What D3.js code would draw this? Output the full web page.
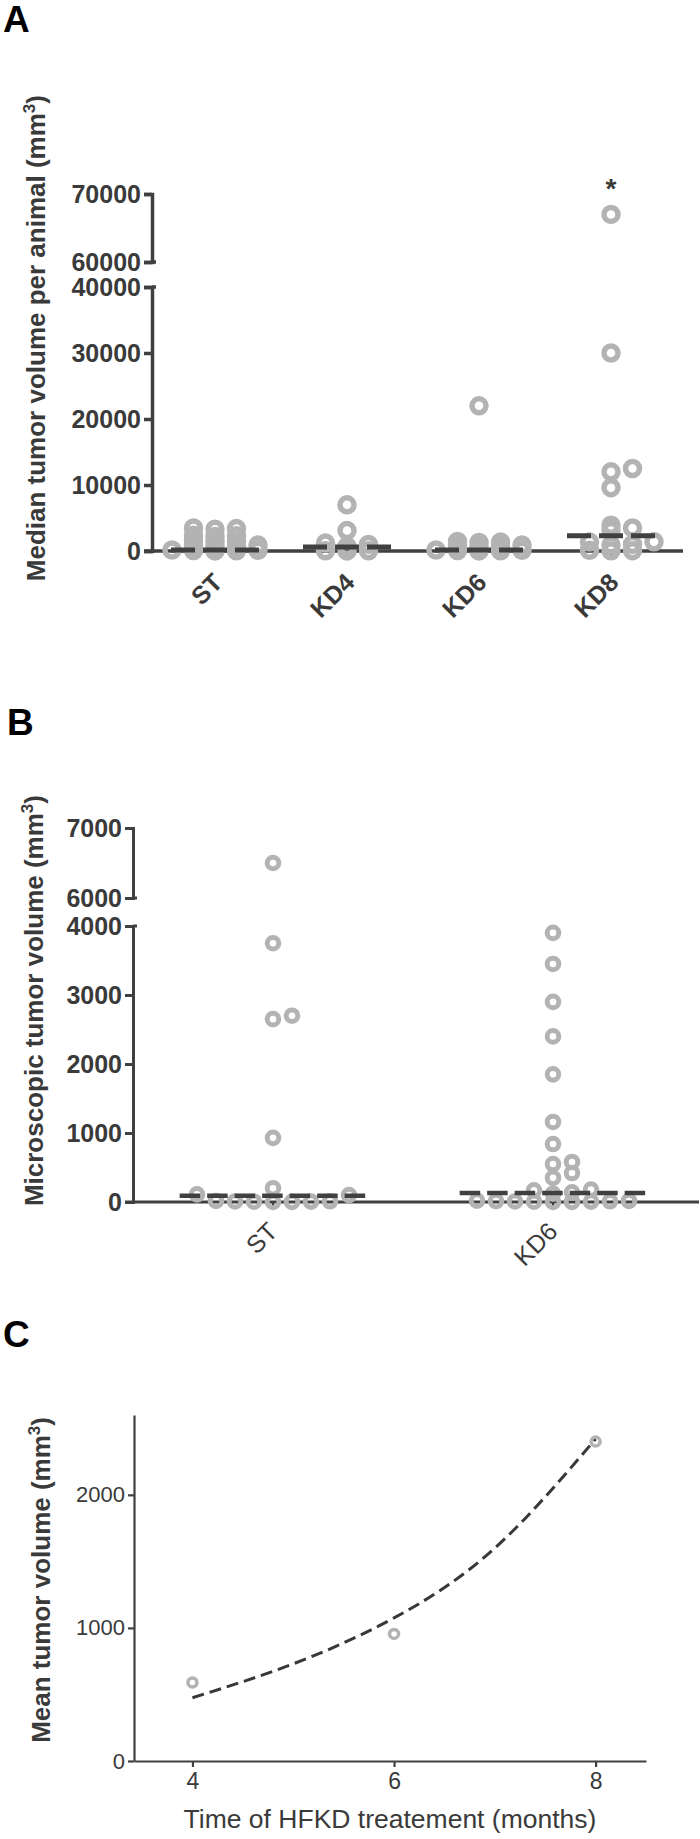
<!DOCTYPE html>
<html>
<head>
<meta charset="utf-8">
<script src="https://cdn.jsdelivr.net/npm/d3@7"></script>
<style>
  body { margin: 0; background: #fff; }
  svg { display: block; font-family: "Liberation Sans", Arial, sans-serif; }
  .ax path, .ax line { stroke: #404040; }
  .ax text { fill: #3a3a3a; }
</style>
</head>
<body>
<svg width="700" height="1839"></svg>
<script>
'use strict';
// panel A - median tumor volume per animal
var catsA = ['ST', 'KD4', 'KD6', 'KD8'];
var stA = [10, 30, 60, 100, 150, 700, 750, 800, 900, 1400, 1500, 1600, 2200, 2300, 2400, 3300, 3400, 3500];
var kd4A = [10, 20, 40, 700, 1000, 1200, 3100, 7000];
var kd6A = [10, 30, 60, 100, 150, 650, 700, 800, 900, 1300, 1350, 1450, 22000];
var kd8A = [20, 50, 100, 900, 1000, 1350, 1400, 3100, 3500, 3900, 9600, 12000, 12500, 30000, 67000];
var medianA = [150, 600, 150, 2300];
var ticksALow = [0, 10000, 20000, 30000, 40000];
var ticksAHigh = [60000, 70000];

// panel B - microscopic tumor volume
var catsB = ['ST', 'KD6'];
var stB = [0, 2, 4, 6, 8, 10, 15, 100, 110, 200, 930, 2650, 2700, 3750, 6500];
var kd6B = [0, 2, 4, 6, 8, 10, 12, 15, 20, 120, 140, 170, 180, 350, 420, 550, 580, 840, 1160, 1850, 2400, 2900, 3450, 3900];
var medianB = [90, 130];
var ticksBLow = [0, 1000, 2000, 3000, 4000];
var ticksBHigh = [6000, 7000];

// panel C - mean tumor volume vs time
var monthsC = [4, 6, 8];
var meanC = [590, 955, 2400];
var fitMonthsC = [4, 5, 6, 7, 8];
var fitC = [475, 730, 1075, 1600, 2420];
var ticksCx = [4, 6, 8];
var ticksCy = [0, 1000, 2000];

var svg = d3.select('svg');
var GREY = '#b3b3b3';
var DARK = '#404040';

// spread points of one column sideways when they sit on top of each other
function swarm(vals, y, step, hc) {
  var placed = [];
  vals.slice().sort((a, b) => a - b).forEach(v => {
    var py = y(v), k = 0, off = 0;
    for (;;) {
      off = k === 0 ? 0 : (k % 2 ? (k + 1) / 2 : -k / 2) * step;
      if (!placed.some(p => Math.abs(p.off - off) < step * 0.9 && Math.abs(p.py - py) < hc)) {
        break;
      }
      k++;
    }
    placed.push({v: v, py: py, off: off});
  });
  return placed;
}

function letter(t, x, y) {
  svg.append('text')
    .attr('x', x).attr('y', y)
    .attr('font-size', 37).attr('font-weight', 'bold')
    .text(t);
}

function yTitle(label, x, yEnd) {
  var t = svg.append('text')
    .attr('transform', `translate(${x},${yEnd}) rotate(-90)`)
    .attr('text-anchor', 'end')
    .attr('font-size', 26).attr('font-weight', 'bold')
    .attr('fill', '#3a3a3a');
  t.append('tspan').text(label + ' (mm');
  t.append('tspan').attr('font-size', 17).attr('dy', -10).text('3');
  t.append('tspan').attr('dy', 10).text(')');
}

function cleanAxis(g) {
  g.attr('font-size', null).attr('font-family', null);
}

function dotPanel(o) {
  var low = d3.scaleLinear().domain(o.lowDomain).range(o.lowRange);
  var high = d3.scaleLinear().domain(o.highDomain).range(o.highRange);
  var y = v => v >= o.highDomain[0] ? high(v) : low(v);
  var x = d3.scaleBand().domain(o.cats).range(o.xRange);
  var bw = x.bandwidth();
  var y0 = low(0);
  var ax = o.xRange[0] - o.yGap;
  var g = svg.append('g');

  // broken y axis, two pieces
  [[low, o.ticksLow], [high, o.ticksHigh]].forEach(([s, t]) => {
    g.append('g')
      .attr('class', 'ax')
      .attr('transform', `translate(${ax},0)`)
      .call(d3.axisLeft(s).tickValues(t).tickSize(8).tickSizeOuter(8).tickPadding(3).tickFormat(d3.format('d')))
      .call(cleanAxis)
      .call(a => a.selectAll('path, line').attr('stroke-width', o.axisW))
      .call(a => a.selectAll('text').attr('font-size', 25).attr('font-weight', 'bold'));
  });
  // small stubs at the two ends of the break
  g.selectAll('line.stub')
    .data([low(o.lowDomain[1]), high(o.highDomain[0])])
    .enter().append('line')
      .attr('class', 'stub')
      .attr('x1', ax).attr('x2', ax + 4)
      .attr('y1', d => d).attr('y2', d => d)
      .attr('stroke', DARK).attr('stroke-width', o.axisW);

  // x axis
  g.append('line')
    .attr('x1', ax - 8).attr('x2', o.xRange[1] + 6)
    .attr('y1', y0).attr('y2', y0)
    .attr('stroke', DARK).attr('stroke-width', o.axisW);
  g.append('g')
    .attr('class', 'ax')
    .attr('transform', `translate(0,${y0})`)
    .call(d3.axisBottom(x).tickSize(6).tickSizeOuter(0))
    .call(cleanAxis)
    .call(a => a.select('.domain').remove())
    .call(a => a.selectAll('line').attr('stroke-width', 2.5))
    .call(a => a.selectAll('text')
      .attr('x', o.lab[0]).attr('y', o.lab[1]).attr('dy', 0)
      .attr('text-anchor', 'end')
      .attr('transform', `rotate(-45,${o.lab[0]},${o.lab[1]})`)
      .attr('font-size', o.labSize)
      .attr('font-weight', o.labWeight));

  // dots
  o.cats.forEach((c, i) => {
    var cx = x(c) + bw / 2;
    g.append('g')
      .selectAll('circle')
      .data(swarm(o.series[i], y, o.step, o.hc))
      .enter().append('circle')
        .attr('cx', d => cx + d.off)
        .attr('cy', d => d.py)
        .attr('r', o.r)
        .attr('fill', 'none')
        .attr('stroke', GREY)
        .attr('stroke-width', o.sw);
  });

  // medians
  g.append('g')
    .selectAll('line')
    .data(o.medians)
    .enter().append('line')
      .attr('x1', (d, i) => x(o.cats[i]) + bw / 2 - bw / 3)
      .attr('x2', (d, i) => x(o.cats[i]) + bw / 2 + bw / 3)
      .attr('y1', d => y(d))
      .attr('y2', d => y(d))
      .attr('stroke', DARK)
      .attr('stroke-width', o.medW)
      .attr('stroke-dasharray', o.dash);

  return {x: x, y: y, bw: bw};
}

// ---------- A ----------
letter('A', 3, 32);
yTitle('Median tumor volume per animal', 45, 95);
var pa = dotPanel({
  cats: catsA,
  series: [stA, kd4A, kd6A, kd8A],
  medians: medianA,
  lowDomain: [0, 40000], lowRange: [551, 287],
  highDomain: [60000, 70000], highRange: [262, 194],
  ticksLow: ticksALow, ticksHigh: ticksAHigh,
  xRange: [149, 677], yGap: -3,
  axisW: 3.5, r: 7, sw: 5.5, step: 21.5, hc: 4,
  medW: 5, dash: '24,8',
  lab: [9, 33], labSize: 25, labWeight: 'bold'
});
svg.append('text')
  .attr('x', pa.x('KD8') + pa.bw / 2)
  .attr('y', pa.y(d3.max(kd8A)) - 16)
  .attr('text-anchor', 'middle')
  .attr('font-size', 28).attr('font-weight', 'bold')
  .attr('fill', '#3a3a3a')
  .text('*');

// ---------- B ----------
letter('B', 7, 735);
yTitle('Microscopic tumor volume', 43, 795);
dotPanel({
  cats: catsB,
  series: [stB, kd6B],
  medians: medianB,
  lowDomain: [0, 4000], lowRange: [1202, 926],
  highDomain: [6000, 7000], highRange: [898, 828],
  ticksLow: ticksBLow, ticksHigh: ticksBHigh,
  xRange: [133, 693], yGap: 0,
  axisW: 3, r: 5.8, sw: 5, step: 19, hc: 8,
  medW: 4.5, dash: '20.5,7',
  lab: [6, 31], labSize: 25, labWeight: 'normal'
});

// ---------- C ----------
letter('C', 3, 1347);
yTitle('Mean tumor volume', 50, 1417);
var xC = d3.scaleLinear().domain([3.42, 8.5]).range([134, 646]);
var yC = d3.scaleLinear().domain([0, 2600]).range([1761, 1415]);
var gc = svg.append('g');
gc.append('g')
  .attr('class', 'ax')
  .attr('transform', `translate(0,${yC(0)})`)
  .call(d3.axisBottom(xC).tickValues(ticksCx).tickSize(6).tickSizeOuter(0).tickPadding(6).tickFormat(d3.format('d')))
  .call(cleanAxis)
  .call(a => a.selectAll('path, line').attr('stroke-width', 2.2).attr('stroke', '#333'))
  .call(a => a.selectAll('text').attr('font-size', 23));
gc.append('g')
  .attr('class', 'ax')
  .attr('transform', `translate(${xC.range()[0]},0)`)
  .call(d3.axisLeft(yC).tickValues(ticksCy).tickSize(6).tickSizeOuter(0).tickPadding(3).tickFormat(d3.format('d')))
  .call(cleanAxis)
  .call(a => a.selectAll('path, line').attr('stroke-width', 2.2).attr('stroke', '#333'))
  .call(a => a.selectAll('text').attr('font-size', 22));
gc.append('path')
  .datum(fitMonthsC.map((m, i) => [m, fitC[i]]))
  .attr('d', d3.line().x(d => xC(d[0])).y(d => yC(d[1])).curve(d3.curveNatural))
  .attr('fill', 'none')
  .attr('stroke', '#383838')
  .attr('stroke-width', 3)
  .attr('stroke-dasharray', '12,6');
gc.append('g')
  .selectAll('circle')
  .data(monthsC.map((m, i) => [m, meanC[i]]))
  .enter().append('circle')
    .attr('cx', d => xC(d[0]))
    .attr('cy', d => yC(d[1]))
    .attr('r', 4.5)
    .attr('fill', 'none')
    .attr('stroke', GREY)
    .attr('stroke-width', 3.5);
svg.append('text')
  .attr('x', (xC.range()[0] + xC.range()[1]) / 2)
  .attr('y', 1828)
  .attr('text-anchor', 'middle')
  .attr('font-size', 26.5)
  .attr('fill', '#3a3a3a')
  .text('Time of HFKD treatement (months)');
</script>
</body>
</html>
